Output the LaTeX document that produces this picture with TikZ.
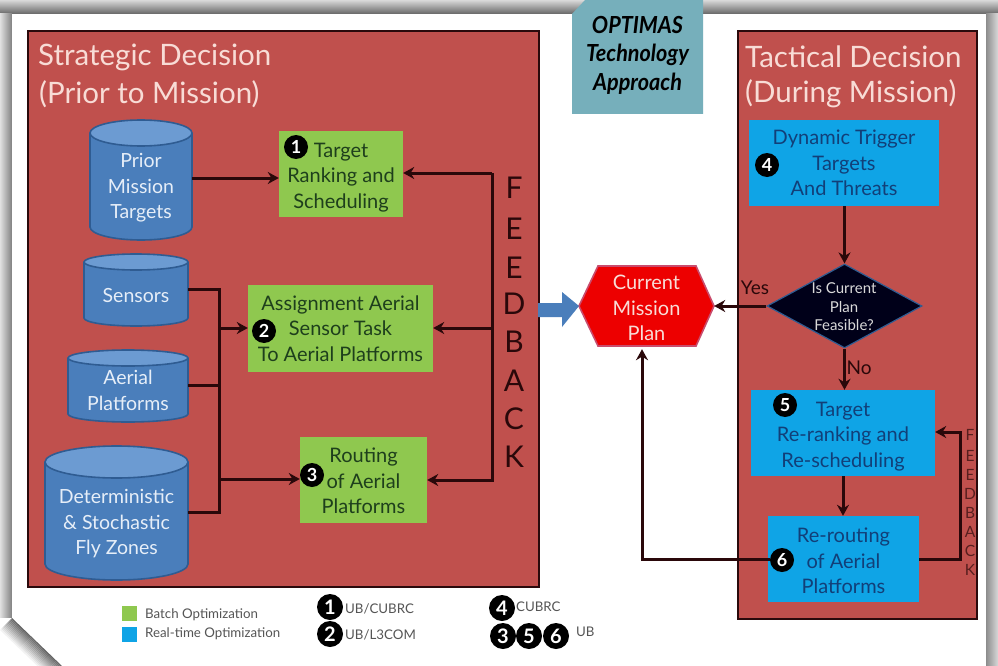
\documentclass[tikz,border=0pt]{standalone}
\usepackage{fontspec}
\setmainfont{Lato}
\usetikzlibrary{arrows.meta,shapes.geometric,calc}
\definecolor{panelred}{HTML}{C0504D}
\definecolor{panelline}{HTML}{2A0A0C}
\definecolor{cylblue}{HTML}{4A7EBB}
\definecolor{cyltop}{HTML}{6C9BD2}
\definecolor{cylline}{HTML}{2F5C92}
\definecolor{boxgreen}{HTML}{8FC84F}
\definecolor{boxblue}{HTML}{0FA4E6}
\definecolor{tealtag}{HTML}{76AFBB}
\definecolor{wire}{HTML}{2A080A}
\definecolor{paletxt}{HTML}{E6EEF8}
\definecolor{greentxt}{HTML}{1E3F1C}
\definecolor{bluetxt}{HTML}{123F78}
\definecolor{titletxt}{HTML}{F8DCD6}
\definecolor{legtxt}{HTML}{555555}
\newcommand\dnb[1]{\rule{0pt}{#1pt}}
\tikzset{
  gbox/.style={fill=boxgreen,text=greentxt,inner sep=0pt,align=center,font=\fontsize{20}{25.5}\selectfont},
  bbox/.style={fill=boxblue,text=bluetxt,inner sep=0pt,align=center,font=\fontsize{20}{25.5}\selectfont},
  cyltext/.style={inner sep=0pt,align=center,text=paletxt,font=\fontsize{19.5}{25.5}\selectfont},
  wirearrow/.style={draw=wire,line width=3pt,-{Stealth[length=11pt,width=12pt]}},
  wireline/.style={draw=wire,line width=3pt},
  num/.style={circle,fill=black,text=white,inner sep=0pt,minimum size=24pt,font=\fontsize{18}{18}\selectfont\bfseries},
  knum/.style={circle,fill=black,text=white,inner sep=0pt,minimum size=26pt,font=\fontsize{20}{20}\selectfont\bfseries},
  titletext/.style={text=titletxt,anchor=west,inner sep=0pt,font=\fontsize{29.5}{29.5}\selectfont},
  fb/.style={text=wire,inner sep=0pt,font=\fontsize{30}{30}\selectfont},
  fbs/.style={text=wire!70!panelred,inner sep=0pt,font=\fontsize{15.5}{15.5}\selectfont},
  legend/.style={text=legtxt,anchor=west,inner sep=0pt,font=\fontsize{13.3}{13.3}\selectfont},
  teallabel/.style={inner sep=0pt,text=black,font=\fontsize{23.5}{23.5}\selectfont\bfseries\itshape},
}
% name, x1, x2, ytop, ybottom, ry, text, text offset
\newcommand\mycyl[8]{%
  \pgfmathsetmacro\cx{(#2+#3)/2}\pgfmathsetmacro\rx{(#3-#2)/2}
  \fill[cylblue,draw=cylline,line width=1.6pt] (\cx,#5-#6) ellipse [x radius=\rx pt,y radius=#6 pt];
  \fill[cylblue] (#2,#4+#6) rectangle (#3,#5-#6);
  \draw[cylline,line width=1.6pt] (#2,#4+#6) -- (#2,#5-#6) (#3,#4+#6) -- (#3,#5-#6);
  \fill[cyltop,draw=cylline,line width=1.6pt] (\cx,#4+#6) ellipse [x radius=\rx pt,y radius=#6 pt];
  \pgfmathsetmacro\cy{(#4+2*#6+#5)/2+#8}
  \node[cyltext,minimum width=#3pt-#2pt,minimum height=#5pt-#4pt-2*#6 pt] (#1) at (\cx,\cy) {#7};
}
\begin{document}
\begin{tikzpicture}[x=1pt,y=-1pt]
\useasboundingbox (0,0) rectangle (998,666);
% page and its shadow
\fill[white] (0,0) rectangle (998,666);
\shade[top color=white!85!black,bottom color=black!60] (0,0) rectangle (998,14);
\shade[left color=white!88!black,right color=black!50] (0,14) rectangle (12,618);
\shade[left color=black!45,right color=black!15] (986,14) rectangle (998,666);
\fill[white] (12,14) rectangle (986,666);
\fill[white] (0,618) -- (12,618) -- (62,666) -- (0,666) -- cycle;
\foreach \t in {0,1,...,11}{
  \pgfmathsetmacro\sh{60*(1-\t/12)}
  \fill[black!\sh] ({12-\t},{618+\t}) -- ({62-\t},{666+\t}) -- ({61-\t},{667+\t}) -- ({11-\t},{619+\t}) -- cycle;
}
% panels
\node[draw=panelline,line width=2.6pt,fill=panelred,minimum width=511pt,minimum height=556pt,inner sep=0pt] (left) at (283.5,309) {};
\node[draw=panelline,line width=2.6pt,fill=panelred,minimum width=239pt,minimum height=588pt,inner sep=0pt] (right) at (857.5,325) {};
% teal tag
\fill[tealtag] (572,14) -- (585,0) -- (703,0) -- (703,114) -- (572,114) -- cycle;
\node[teallabel] (t1) at (637.5,25) {\scalebox{.92}[1]{OPTIMAS}};
\node[teallabel] (t2) at (637.5,55) {\scalebox{.92}[1]{Technology}};
\node[teallabel] (t3) at (637.5,84) {\scalebox{.92}[1]{Approach}};
% titles
\node[titletext] (st1) at (38,57) {Strategic Decision};
\node[titletext] (st2) at (39,94) {(Prior to Mission)};
\node[titletext] (tt1) at (745,57) {Tactical Decision};
\node[titletext] (tt2) at (745,94) {(During Mission)};
% cylinders
\mycyl{prior}{90}{192}{120}{240}{13}{Prior\\Mission\\Targets}{-5}
\mycyl{sens}{84}{188}{254}{326}{8}{Sensors}{-2}
\mycyl{aer}{68}{188}{350}{422}{8}{Aerial\\Platforms}{-3.5}
\mycyl{det}{45}{188}{446}{580}{16}{Deterministic\\\& Stochastic\\Fly Zones}{-5}
% boxes
\node[gbox,minimum width=124pt,minimum height=86pt] (b1) at (341,174) {\dnb{21}Target\\Ranking and\\Scheduling};
\node[gbox,minimum width=185pt,minimum height=87pt] (b2) at (340.5,328.5) {Assignment Aerial\\Sensor Task\\To Aerial Platforms};
\node[gbox,minimum width=127pt,minimum height=86pt] (b3) at (363.5,480) {\dnb{17}Routing\\of Aerial\\Platforms};
\node[bbox,minimum width=190pt,minimum height=86pt] (b4) at (844,163) {Dynamic Trigger\\Targets\\And Threats};
\node[bbox,minimum width=184pt,minimum height=86pt] (b5) at (843,433) {\dnb{21}Target\\Re-ranking and\\Re-scheduling};
\node[bbox,minimum width=151pt,minimum height=86pt] (b6) at (843.5,559) {\dnb{19}Re-routing\\of Aerial\\Platforms};
% hexagon
\path[fill=red!93!black,draw=black!40!blue!30!red!70,line width=1.6pt] (579,306) -- (598,266) -- (696,266) -- (714,306) -- (696,346) -- (598,346) -- cycle;
\node[inner sep=0pt,minimum width=135pt,minimum height=80pt,align=center,text=titletxt,font=\fontsize{20}{25.5}\selectfont] (hex) at (646.5,306) {\dnb{19}Current\\Mission\\Plan};
% diamond
\node[diamond,fill=black!90!blue,draw=cylline,line width=1.2pt,inner sep=0pt,minimum width=155pt,minimum height=84pt] (dia) at (844.5,306) {};
\node[inner sep=0pt,align=center,text=white!85!black,font=\fontsize{15}{18.5}\selectfont] (dtext) at (844,307) {Is Current\\Plan\\Feasible?};
% fat arrow
\fill[cylblue] (538,303) -- (562,303) -- (562,292) -- (579,306) -- (562,327) -- (562,317) -- (538,317) -- cycle;
% number circles
\node[num] (n1) at (296,147) {1};
\node[num] (n2) at (264,331) {2};
\node[num] (n3) at (312,475) {3};
\node[num] (n4) at (767,165) {4};
\node[num] (n5) at (785,405) {5};
\node[num] (n6) at (782,560) {6};
% connectors: inputs
\coordinate (busTop) at (219,289);
\coordinate (busBot) at (219,512);
\coordinate (busIn2) at (219,328);
\coordinate (busIn3) at (219,479);
\coordinate (busAer) at (219,385);
\draw[wirearrow] (prior.east |- 0,178) -- (b1.west |- 0,178);
\draw[wireline,line join=miter] (sens.east |- busTop) -- (busTop) -- (busBot) -- (det.east |- busBot);
\draw[wireline] (aer.east |- busAer) -- (busAer);
\draw[wirearrow] (busIn2) -- (b2.west |- busIn2);
\draw[wirearrow] (busIn3) -- (n3.west |- busIn3);
% connectors: feedback
\coordinate (fbTop) at (492,173);
\coordinate (fbMid) at (492,328);
\coordinate (fbBot) at (492,480);
\draw[wirearrow] (fbMid) -- (b2.east |- fbMid);
\draw[wirearrow,line join=miter] (fbTop) -- (b1.east |- fbTop);
\draw[wirearrow,line join=miter] (fbTop) -- (fbBot) -- (b3.east |- fbBot);
% connectors: tactical
\draw[wirearrow] (b4.south -| dia.north) -- (dia.north);
\draw[wirearrow] (dia.south) -- (b5.north -| dia.south);
\draw[wirearrow] (b5.south) -- (b6.north -| b5.south);
\draw[wirearrow] (dia.west) -- (hex.east);
\coordinate (retA) at (642,559);
\draw[wirearrow,line join=miter,shorten >=3pt] (n6.west |- retA) -- (retA) -- (retA |- hex.south);
\coordinate (fbR1) at (960,559);
\coordinate (fbR2) at (960,432);
\draw[wirearrow,line join=miter] (b6.east |- fbR1) -- (fbR1) -- (fbR2) -- (b5.east |- fbR2);
% labels
\node[inner sep=0pt,text=wire,font=\fontsize{19}{19}\selectfont] (yes) at (755,288) {Yes};
\node[inner sep=0pt,text=wire,font=\fontsize{19}{19}\selectfont] (no) at (859,368) {No};
\foreach \ch/\yy/\nm in {F/188/a,E/229/b,E/268/c,D/304/d,B/342/e,A/381/f,C/419/g,K/457/h}
  \node[fb] (fb\nm) at (514,\yy) {\ch};
\foreach \ch/\yy/\nm in {F/435/a,E/456/b,E/475/c,D/494/d,B/513/e,A/532/f,C/551/g,K/570/h}
  \node[fbs] (fs\nm) at (970,\yy) {\ch};
% legend
\fill[boxgreen] (122,606) rectangle (137,621);
\fill[boxblue] (122,627) rectangle (137,642);
\node[legend] (l1) at (145,615) {Batch Optimization};
\node[legend] (l2) at (145,634) {Real-time Optimization};
\node[knum] (k1) at (330,607) {1};
\node[knum] (k2) at (330,634) {2};
\node[knum] (k4) at (502,608) {4};
\node[knum] (k3) at (503,636) {3};
\node[knum] (k5) at (529,636) {5};
\node[knum] (k6) at (556,636) {6};
\node[legend] (u1) at (345,609) {UB/CUBRC};
\node[legend] (u2) at (345,635) {UB/L3COM};
\node[legend] (u3) at (516,607) {CUBRC};
\node[legend] (u4) at (576,632) {UB};
\end{tikzpicture}
\end{document}
